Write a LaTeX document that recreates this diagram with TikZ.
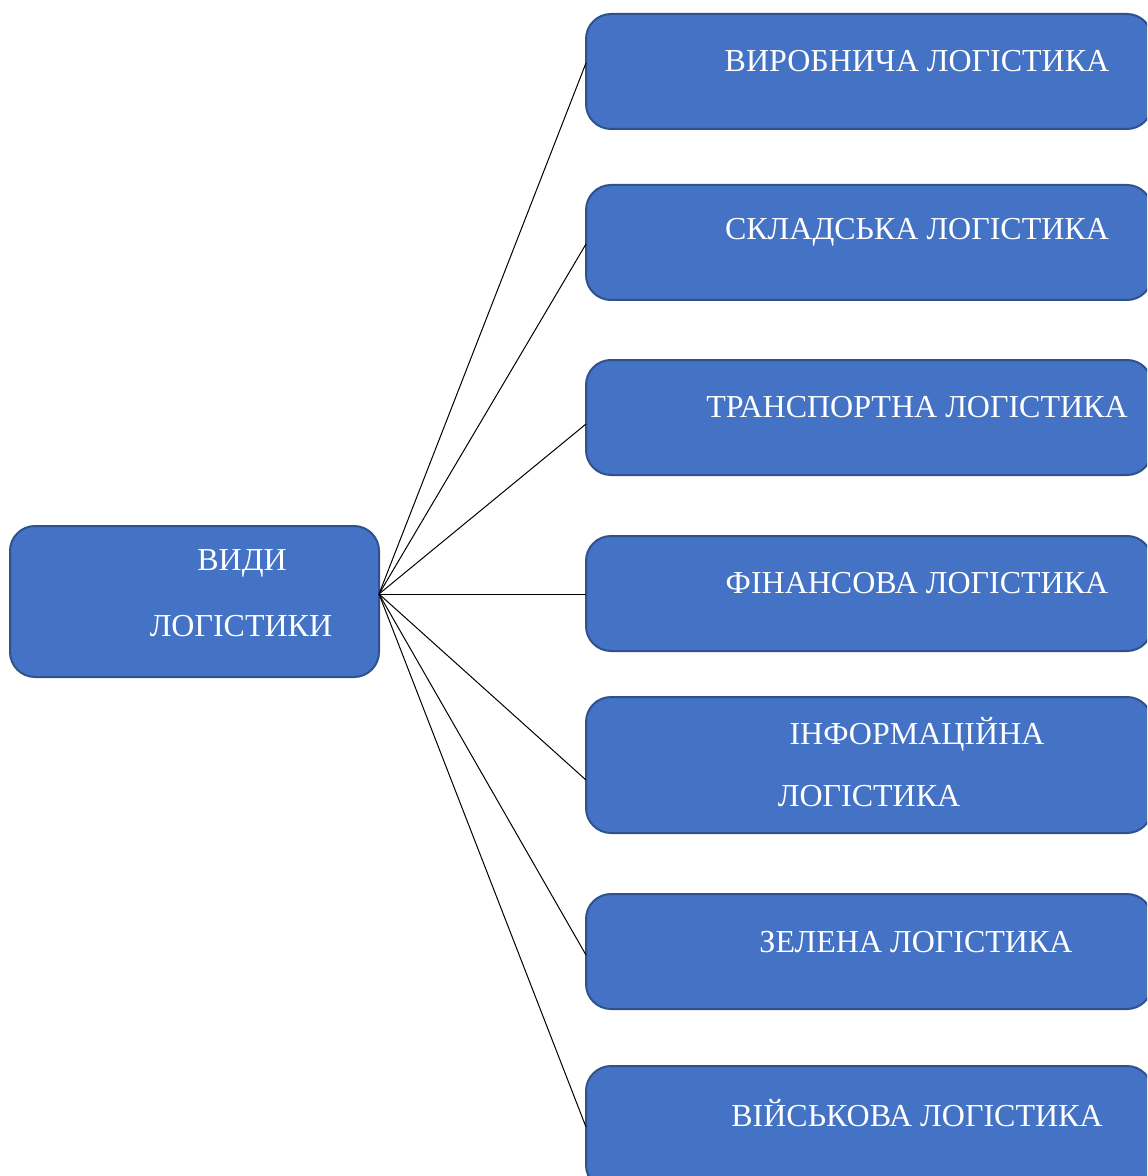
\documentclass[tikz,border=0pt]{standalone}
\usepackage{fontspec}
\setmainfont{Liberation Serif}
\definecolor{boxfill}{HTML}{4472C4}
\definecolor{boxline}{HTML}{2F528F}
\tikzset{
  box/.style={draw=boxline, fill=boxfill, line width=1pt, rounded corners=12.5pt},
  lbl/.style={text=white, font=\fontsize{16}{19}\selectfont, inner sep=0pt, anchor=center},
  conn/.style={draw=black, line width=0.5pt}
}
\begin{document}
\begin{tikzpicture}[x=0.5pt,y=-0.5pt]
\clip (0,0) rectangle (1147,1176);
\fill[white] (0,0) rectangle (1147,1176);
% left box
\path[box] (10,526) rectangle (379,677);
\coordinate (c) at (379,594);
\node[lbl] (t0a) at (242,563) {ВИДИ};
\node[lbl] (t0b) at (241,626) {ЛОГІСТИКИ};
% right boxes
\path[box] (586,14) rectangle (1152,129);
\path[box] (586,185) rectangle (1152,300);
\path[box] (586,360) rectangle (1152,475);
\path[box] (586,536) rectangle (1152,651);
\path[box] (586,697) rectangle (1152,833);
\path[box] (586,894) rectangle (1152,1009);
\path[box] (586,1066) rectangle (1152,1190);
\coordinate (p1) at (586,63);
\coordinate (p2) at (586,244);
\coordinate (p3) at (586,424);
\coordinate (p4) at (586,594);
\coordinate (p5) at (586,780);
\coordinate (p6) at (586,955);
\coordinate (p7) at (586,1127);
\node[lbl] (t1) at (917,61) {ВИРОБНИЧА ЛОГІСТИКА};
\node[lbl] (t2) at (917,232) {СКЛАДСЬКА ЛОГІСТИКА};
\node[lbl] (t3) at (917,407) {ТРАНСПОРТНА ЛОГІСТИКА};
\node[lbl] (t4) at (917,583) {ФІНАНСОВА ЛОГІСТИКА};
\node[lbl] (t5a) at (917,734) {ІНФОРМАЦІЙНА};
\node[lbl] (t5b) at (869,796) {ЛОГІСТИКА};
\node[lbl] (t6) at (916,942) {ЗЕЛЕНА ЛОГІСТИКА};
\node[lbl] (t7) at (917,1113) {ВІЙСЬКОВА ЛОГІСТИКА};
\foreach \i in {1,...,7} { \draw[conn] (c) -- (p\i); }
\end{tikzpicture}
\end{document}
